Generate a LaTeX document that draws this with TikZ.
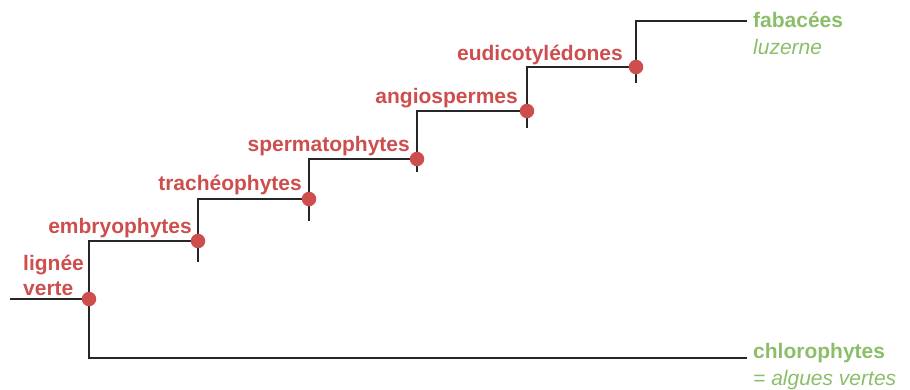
\documentclass[tikz,border=0pt]{standalone}
\usepackage{fontspec}
\setmainfont{Liberation Sans}
\usepackage{xcolor}
\usetikzlibrary{positioning}
\definecolor{cladered}{RGB}{206,78,78}
\definecolor{cladegreen}{RGB}{140,190,106}
\begin{document}
\begin{tikzpicture}[x=1pt,y=-1pt,
  branch/.style={line width=1.8pt,draw=black!85},
  knot/.style={circle,fill=cladered,inner sep=0pt,minimum size=14.5pt},
  clade/.style={text=cladered,font=\fontsize{21}{25}\selectfont\bfseries,inner sep=0pt},
  taxon/.style={text=cladegreen,font=\fontsize{21}{25}\selectfont\bfseries,inner sep=0pt,anchor=west},
  example/.style={text=cladegreen,font=\fontsize{21}{25}\selectfont\itshape,inner sep=0pt,anchor=west}]
\useasboundingbox (0,0) rectangle (910,389);
% branching points
\coordinate (root) at (10,299);
\coordinate (n0) at (89,299);
\coordinate (n1) at (198,241);
\coordinate (n2) at (309,199);
\coordinate (n3) at (417,159);
\coordinate (n4) at (527,111);
\coordinate (n5) at (636,67);
\coordinate (s1) at (198,262);
\coordinate (s2) at (309,221);
\coordinate (s3) at (417,172);
\coordinate (s4) at (527,128);
\coordinate (s5) at (636,83);
\coordinate (fab) at (747,21);
\coordinate (chl) at (747,358);
% tree
\draw[branch] (root) -- (n0) |- (chl);
\draw[branch] (n0) |- (n1) |- (n2) |- (n3) |- (n4) |- (n5) |- (fab);
\foreach \i in {1,...,5} \draw[branch] (n\i) -- (s\i);
\foreach \i in {0,...,5} \node[knot] at (n\i) {};
% clades
\node[clade,align=left,anchor=west] (verte) at (23,275) {lignée\\verte};
\node[clade,anchor=east] (embryo) at (192,228) {embryophytes};
\node[clade,anchor=east] (tracheo) at (302,185) {trachéophytes};
\node[clade,anchor=east] (sperma) at (410,146) {spermatophytes};
\node[clade,anchor=east] (angio) at (518,98) {angiospermes};
\node[clade,anchor=east] (eudico) at (623,55) {eudicotylédones};
% taxa
\node[taxon] (fabacees) at (753,20) {fabacées};
\node[example] (luzerne) at (753,47) {luzerne};
\node[taxon] (chloro) at (753,353) {chlorophytes};
\node[example] (algues) at (753,380) {= algues vertes};
\end{tikzpicture}
\end{document}
